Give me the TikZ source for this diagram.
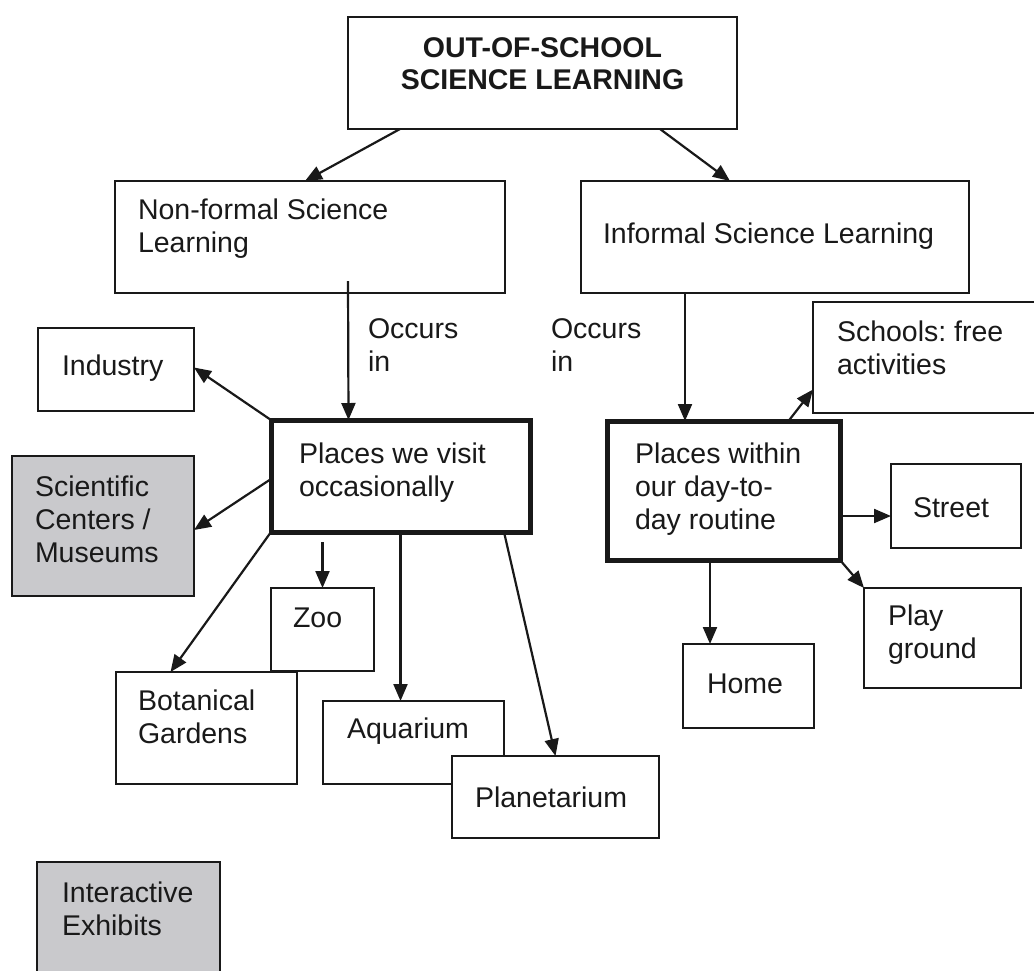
\documentclass[tikz,border=0pt]{standalone}
\usepackage{fontspec}
\setmainfont{Liberation Sans}
\usetikzlibrary{arrows.meta,calc}
\definecolor{boxgray}{RGB}{201,201,204}
\definecolor{ink}{RGB}{25,25,25}
\frenchspacing
\begin{document}
\begin{tikzpicture}[x=1pt,y=-1pt,
  box/.style={draw=ink,line width=2.8pt,fill=white,rectangle,inner sep=0pt,outer sep=0pt},
  thickbox/.style={box,line width=5pt},
  graybox/.style={box,fill=boxgray},
  txt/.style={anchor=base west,inner sep=0pt,outer sep=0pt,align=left,text=ink,
    font=\fontsize{28.5}{33}\selectfont},
  ttl/.style={anchor=base,inner sep=0pt,outer sep=0pt,align=center,text=ink,
    font=\fontsize{28.5}{32}\selectfont\bfseries},
  arr/.style={draw=ink,line width=2.2pt,-{Triangle[length=17pt,width=14pt]}}]
\useasboundingbox (0,0) rectangle (1034,970);
\fill[white] (0,0) rectangle (1034,970);
\clip (0,0) rectangle (1034,970);

% boxes
\node[box,minimum width=389pt,minimum height=112pt] (top) at (542.5,73) {};
\node[box,minimum width=390pt,minimum height=112pt] (nf) at (310,237) {};
\node[box,minimum width=388pt,minimum height=112pt] (inf) at (775,237) {};
\node[box,minimum width=156pt,minimum height=83pt] (ind) at (116,369.5) {};
\node[thickbox,minimum width=259pt,minimum height=112pt] (pv) at (400.5,476) {};
\node[graybox,minimum width=182pt,minimum height=140pt] (sci) at (103,526) {};
\node[box,minimum width=103pt,minimum height=83pt] (zoo) at (322.5,629.5) {};
\node[box,minimum width=181pt,minimum height=112pt] (bot) at (206.5,728) {};
\node[box,minimum width=181pt,minimum height=83pt] (aq) at (413.5,742.5) {};
\node[box,minimum width=207pt,minimum height=82pt] (pl) at (555.5,797) {};
\node[graybox,minimum width=183pt,minimum height=138pt] (ie) at (128.5,931) {};
\node[box,minimum width=247pt,minimum height=111pt] (sch) at (936.5,357.5) {};
\node[thickbox,minimum width=233pt,minimum height=139pt] (pw) at (723.5,490.5) {};
\node[box,minimum width=130pt,minimum height=84pt] (st) at (956,506) {};
\node[box,minimum width=157pt,minimum height=100pt] (pg) at (942.5,638) {};
\node[box,minimum width=131pt,minimum height=84pt] (home) at (748.5,686) {};

% texts (anchor = baseline of the last line)
\node[ttl] (t1) at (542.5,57) {OUT-OF-SCHOOL};
\node[ttl] (t2) at (542.5,89) {SCIENCE LEARNING};
\node[txt] (tnf) at (138,252) {Non-formal Science\\Learning};
\node[txt] (tinf) at (603,243) {Informal Science Learning};
\node[txt] (occ1) at (368,371) {Occurs\\in};
\node[txt] (occ2) at (551,371) {Occurs\\in};
\node[txt] (tind) at (62,375) {Industry};
\node[txt] (tpv) at (299,496) {Places we visit\\occasionally};
\node[txt] (tsci) at (35,562) {Scientific\\Centers /\\Museums};
\node[txt] (tzoo) at (293,627) {Zoo};
\node[txt] (tbot) at (138,743) {Botanical\\Gardens};
\node[txt] (taq) at (347,738) {Aquarium};
\node[txt] (tpl) at (475,807) {Planetarium};
\node[txt] (tie) at (62,935) {Interactive\\Exhibits};
\node[txt] (tsch) at (837,374) {Schools: free\\activities};
\node[txt] (tpw) at (635,529) {Places within\\our day-to-\\day routine};
\node[txt] (tst) at (913,517) {Street};
\node[txt] (tpg) at (888,658) {Play\\ground};
\node[txt] (thome) at (707,693) {Home};

% connectors
\draw[arr] ([xshift=-142.5pt]top.south) -- ([xshift=-5pt]nf.north);
\draw[arr] ([xshift=117.5pt]top.south) -- ([xshift=-45pt]inf.north);
\draw[arr] ([xshift=38pt,yshift=12pt]nf.south) -- ([xshift=-52pt]pv.north);
\draw[arr] ([xshift=-90pt]inf.south) -- ([xshift=-38.5pt]pw.north);
\draw[arr] (pv.north west) -- ([yshift=2pt]ind.east);
\draw[arr] ([yshift=-3pt]pv.west) -- ([yshift=-4pt]sci.east);
\draw[arr] (pv.south west) -- ([xshift=-36pt]bot.north);
\draw[arr] ($(zoo.north |- pv.south)+(0,10)$) -- (zoo.north);
\draw[arr] (pv.south) -- (pv.south |- aq.north);
\draw[arr] ([xshift=-26pt]pv.south east) -- (pl.north);
\draw[arr] ([xshift=65pt]pw.north) -- ([yshift=-32pt]sch.west);
\draw[arr] (pw.east |- st.west) ++(0,10) coordinate (se) -- ($(st.west)+(0,10)$);
\draw[arr] (pw.south east) -- (pg.north west);
\draw[arr] ([xshift=-13.5pt]pw.south) -- ([xshift=-13.5pt]pw.south |- home.north);
\end{tikzpicture}
\end{document}
